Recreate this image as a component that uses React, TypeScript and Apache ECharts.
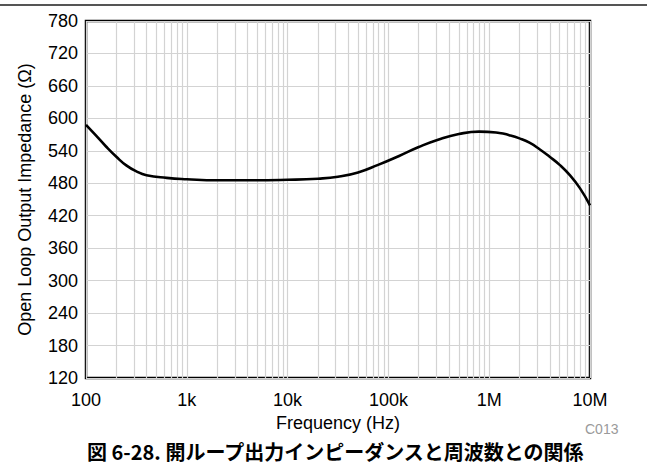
import React, { useEffect, useRef } from "react";
import * as echarts from "echarts";

const freqs = [100, 126, 158, 200, 251, 316, 398, 631, 1000, 2000, 4000, 10000, 20000, 31600, 50000, 79000, 126000, 200000, 316000, 500000, 794000, 1260000, 1580000, 2000000, 2510000, 3160000, 3980000, 5000000, 6310000, 7940000, 10000000];
const impedance = [588, 568, 548, 529, 513, 502, 495, 490, 487.5, 485.5, 485.5, 486.5, 488.5, 492, 500, 514, 530, 547, 561, 571, 575.5, 573, 569, 563, 555, 543, 529, 514, 495, 471, 439];
const xTickValues = [100, 1000, 10000, 100000, 1000000, 10000000];
const xTickLabels = ["100", "1k", "10k", "100k", "1M", "10M"];
const minorMultipliers = [2, 3, 4, 5, 6, 7, 8, 9];
const decades = [100, 1000, 10000, 100000, 1000000];

const titleText = "図 6-28. 開ループ出力インピーダンスと周波数との関係";
const xName = "Frequency (Hz)";
const yName = "Open Loop Output Impedance (Ω)";
const codeText = "C013";

export default function App() {
  const ref = useRef<HTMLDivElement>(null);
  useEffect(() => {
    if (!ref.current) return;
    const chart = echarts.init(ref.current, undefined, { renderer: "svg" });
    const minorLines: any[] = [];
    decades.forEach((d) => minorMultipliers.forEach((m) => minorLines.push({ xAxis: d * m })));
    const font = "Liberation Sans";
    chart.setOption({
      animation: false,
      textStyle: { fontFamily: font },
      grid: {
        left: 86,
        right: 57,
        top: 21,
        bottom: 86,
        show: true,
        borderColor: "#000",
        borderWidth: 2.5,
        backgroundColor: "transparent",
      },
      xAxis: {
        type: "log",
        logBase: 10,
        min: 100,
        max: 10000000,
        name: xName,
        nameLocation: "middle",
        nameGap: 33,
        nameTextStyle: { fontSize: 18, color: "#000", fontFamily: font },
        axisLine: { show: false },
        axisTick: { show: false },
        axisLabel: {
          fontSize: 18,
          color: "#000",
          margin: 13,
          fontFamily: font,
          formatter: (v: number) => {
            const i = xTickValues.findIndex((t) => Math.abs(Math.log10(t) - Math.log10(v)) < 1e-6);
            return i >= 0 ? xTickLabels[i] : "";
          },
        },
        splitLine: { show: true, lineStyle: { color: "#d3d3d3", width: 1.2 } },
      },
      yAxis: {
        type: "value",
        min: 120,
        max: 780,
        interval: 60,
        name: yName,
        nameLocation: "middle",
        nameGap: 52,
        nameTextStyle: { fontSize: 18, color: "#000", fontFamily: font },
        axisLine: { show: false },
        axisTick: { show: false },
        axisLabel: { fontSize: 18, color: "#000", margin: 8, fontFamily: font },
        splitLine: { show: true, lineStyle: { color: "#d3d3d3", width: 1.2 } },
      },
      series: [
        {
          type: "line",
          data: [],
          silent: true,
          markLine: {
            silent: true,
            symbol: "none",
            label: { show: false },
            lineStyle: { color: "#d3d3d3", width: 1.2, type: "solid" },
            data: minorLines,
          },
        },
        {
          type: "line",
          data: freqs.map((f, i) => [f, impedance[i]]),
          smooth: 0.5,
          showSymbol: false,
          lineStyle: { color: "#000", width: 2.6 },
          z: 5,
        },
      ],
      graphic: [
        {
          type: "line",
          shape: { x1: 0, y1: 5, x2: 647, y2: 5 },
          style: { stroke: "#555", lineWidth: 2 },
        },
        {
          type: "text",
          x: 585,
          y: 429,
          style: { text: codeText, fontSize: 14, fill: "#9a9a9a", fontFamily: font, verticalAlign: "middle" },
        },
        {
          type: "text",
          x: 87,
          y: 451,
          style: {
            text: titleText,
            fontSize: 20,
            lineHeight: 22,
            fontWeight: "bold",
            fill: "#000",
            verticalAlign: "middle",
            fontFamily: "Noto Sans CJK JP",
          },
        },
      ],
    });
    return () => chart.dispose();
  }, []);
  return <div ref={ref} style={{ width: 647, height: 464, position: "absolute", left: 0, top: 0 }} />;
}
